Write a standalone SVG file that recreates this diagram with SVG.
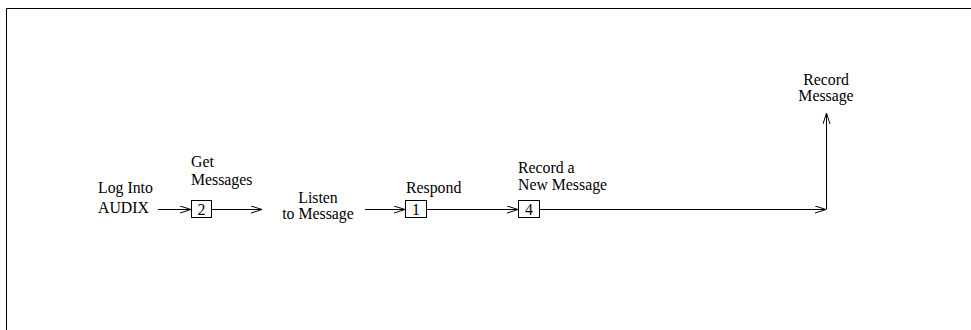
<svg xmlns="http://www.w3.org/2000/svg" width="971" height="330" viewBox="0 0 971 330">
<style>
text{font-family:"Liberation Serif","Times New Roman",serif;font-size:15.8px;fill:#000}
.c{text-anchor:middle}
.box{fill:#fff;stroke:#000;stroke-width:1}
.ln{fill:none;stroke:#000;stroke-width:1}
</style>
<defs>
<marker id="ah" markerUnits="userSpaceOnUse" markerWidth="12" markerHeight="10" refX="11" refY="4" orient="auto">
<path d="M0,0.5 L11,4 L0,7.5" fill="none" stroke="#000" stroke-width="1"/>
</marker>
</defs>
<rect width="971" height="330" fill="#fff"/>
<path class="ln" d="M6.5,330 V8.5 H971"/>
<g id="connectors">
<line class="ln" x1="158" y1="209.5" x2="191" y2="209.5" marker-end="url(#ah)"/>
<line class="ln" x1="211" y1="209.5" x2="262" y2="209.5" marker-end="url(#ah)"/>
<line class="ln" x1="365" y1="209.5" x2="405" y2="209.5" marker-end="url(#ah)"/>
<line class="ln" x1="426" y1="209.5" x2="518" y2="209.5" marker-end="url(#ah)"/>
<line class="ln" x1="539" y1="209.5" x2="826" y2="209.5" marker-end="url(#ah)"/>
<line class="ln" x1="826.5" y1="209.5" x2="826.5" y2="113" marker-end="url(#ah)"/>
</g>
<g id="login"><text x="98" y="193">Log Into</text><text x="98" y="213">AUDIX</text></g>
<g id="get"><rect class="box" x="191.5" y="200.5" width="20" height="17"/><text class="c" x="201.5" y="214.5">2</text><text x="191" y="167">Get</text><text x="191" y="185">Messages</text></g>
<g id="listen"><text class="c" x="318" y="203">Listen</text><text class="c" x="318" y="219">to Message</text></g>
<g id="respond"><rect class="box" x="405.5" y="200.5" width="21" height="17"/><text class="c" x="416" y="214.5">1</text><text x="406" y="193">Respond</text></g>
<g id="record"><rect class="box" x="518.5" y="200.5" width="21" height="17"/><text class="c" x="529" y="214.5">4</text><text x="518" y="173">Record a</text><text x="518" y="190">New Message</text></g>
<g id="recmsg"><text class="c" x="826" y="85">Record</text><text class="c" x="826" y="101">Message</text></g>
</svg>
